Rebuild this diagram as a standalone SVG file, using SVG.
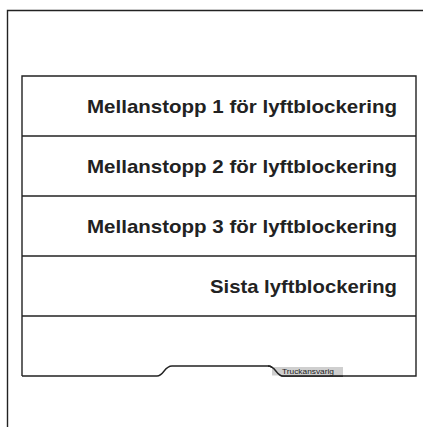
<svg xmlns="http://www.w3.org/2000/svg" width="423" height="427" viewBox="0 0 423 427">
<style>
.ln{fill:none;stroke:#222;stroke-width:1.4}
.lbl{font-family:"Liberation Sans",Arial,sans-serif;font-weight:bold;font-size:19px;fill:#222;text-anchor:end}
.tag{font-family:"Liberation Sans",Arial,sans-serif;font-size:8px;fill:#222}
</style>
<rect width="423" height="427" fill="#fff"/>
<path class="ln" d="M7.5,427 V10.5 H423"/>
<g id="frame">
<path class="ln" d="M22,376 V76 H416 V376 H283 C276,376 276,366 268,366 H172 C164,366 164,376 157,376 H22"/>
</g>
<g id="tag">
<rect x="272" y="367" width="71" height="8.5" fill="#cfcfcf"/>
<path class="ln" d="M268,366 C276,366 276,376 283,376 H343"/>
<text class="tag" x="282" y="374" textLength="52" lengthAdjust="spacingAndGlyphs">Truckansvarig</text>
</g>
<g id="row1">
<path class="ln" d="M22,136 H416"/>
<text class="lbl" x="397" y="112.7" textLength="310" lengthAdjust="spacingAndGlyphs">Mellanstopp 1 för lyftblockering</text>
</g>
<g id="row2">
<path class="ln" d="M22,196 H416"/>
<text class="lbl" x="397" y="172.7" textLength="310" lengthAdjust="spacingAndGlyphs">Mellanstopp 2 för lyftblockering</text>
</g>
<g id="row3">
<path class="ln" d="M22,256 H416"/>
<text class="lbl" x="397" y="232.7" textLength="310" lengthAdjust="spacingAndGlyphs">Mellanstopp 3 för lyftblockering</text>
</g>
<g id="row4">
<path class="ln" d="M22,316 H416"/>
<text class="lbl" x="397" y="292.7" textLength="187" lengthAdjust="spacingAndGlyphs">Sista lyftblockering</text>
</g>
</svg>
